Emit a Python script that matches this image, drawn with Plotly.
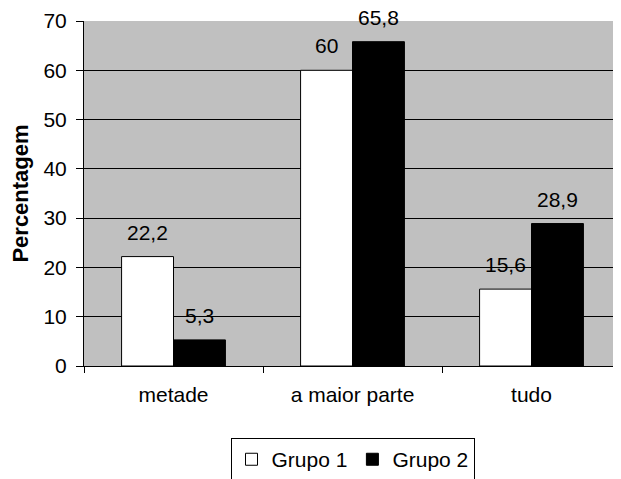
import plotly.graph_objects as go

categories = ["metade", "a maior parte", "tudo"]
grupo1 = [22.2, 60, 15.6]
grupo2 = [5.3, 65.8, 28.9]
series_names = ["Grupo 1", "Grupo 2"]
y_ticks = [0, 10, 20, 30, 40, 50, 60, 70]

def fmt(v):
    s = ("%g" % v)
    return s.replace(".", ",")

FONT = "Liberation Sans, Arial, sans-serif"
FS = 21

fig = go.Figure()
fig.add_trace(go.Bar(x=categories, y=grupo1, name=series_names[0],
                     marker=dict(color="white", line=dict(color="black", width=1))))
fig.add_trace(go.Bar(x=categories, y=grupo2, name=series_names[1],
                     marker=dict(color="black", line=dict(color="black", width=1))))

annotations = []
for vals, shift in ((grupo1, -26), (grupo2, 26)):
    for c, v in zip(categories, vals):
        annotations.append(dict(x=c, y=v, xref="x", yref="y", text=fmt(v),
                                showarrow=False, xshift=shift, yshift=11,
                                yanchor="bottom", font=dict(size=FS, color="black", family=FONT)))

fig.update_layout(
    width=613, height=471,
    margin=dict(l=76, r=0, t=13, b=113, autoexpand=False),
    paper_bgcolor="white",
    plot_bgcolor="#C0C0C0",
    barmode="group",
    bargap=0.42,
    bargroupgap=0,
    font=dict(family=FONT, size=FS, color="black"),
    annotations=annotations,
    showlegend=True,
    legend=dict(orientation="h", x=0.5, xanchor="center", y=-0.209, yanchor="top",
                bordercolor="black", borderwidth=1, font=dict(size=FS),
                itemwidth=30, tracegroupgap=0),
    xaxis=dict(showline=True, linecolor="black", linewidth=1, ticks="outside",
               tickson="boundaries", ticklen=6, tickcolor="black", showgrid=False,
               tickfont=dict(size=FS), automargin=False, ticklabelstandoff=10),
    yaxis=dict(range=[0, 70], tickvals=y_ticks, showline=True, linecolor="black",
               linewidth=1, ticks="outside", ticklen=7, tickcolor="black",
               showgrid=True, gridcolor="black", gridwidth=1, zeroline=False,
               tickfont=dict(size=FS), automargin=False, ticklabelstandoff=5,
               title=dict(text="<b>Percentagem</b>", font=dict(size=22), standoff=10)),
)

fig.write_html("out.html")
